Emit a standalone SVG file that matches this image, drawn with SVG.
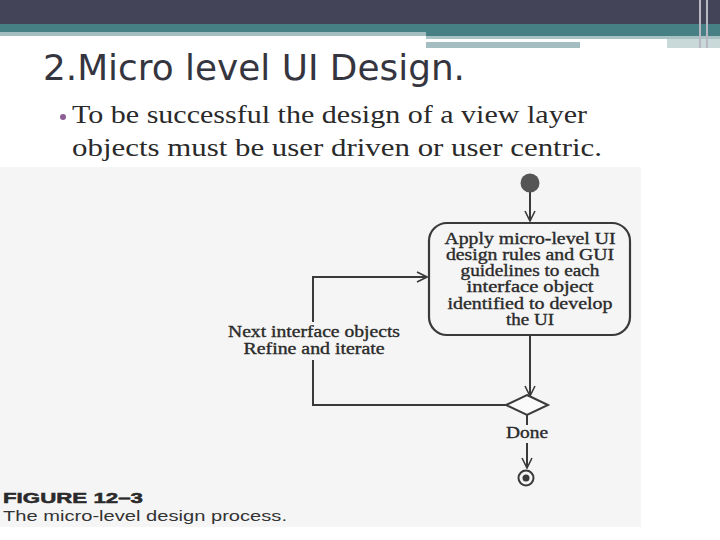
<svg xmlns="http://www.w3.org/2000/svg" width="720" height="540" viewBox="0 0 720 540">
<defs>
<style>
.ln{fill:none;stroke:#3a3a3a;stroke-width:2}
.sf{font-family:"Liberation Serif","Times New Roman",serif;fill:#2a2a2a}
.nt{font-size:16px;text-anchor:middle;stroke:#2a2a2a;stroke-width:0.35}
</style>
<marker id="arr" viewBox="0 0 12 12" refX="11" refY="6" markerWidth="12" markerHeight="12" markerUnits="userSpaceOnUse" orient="auto">
<path d="M1,1 L11,6 L1,11" fill="none" stroke="#3a3a3a" stroke-width="1.6"/>
</marker>
</defs>
<rect width="720" height="540" fill="#ffffff"/>
<g id="header">
<rect x="0" y="0" width="720" height="24" fill="#434457"/>
<rect x="0" y="24" width="720" height="9" fill="#467f84"/>
<rect x="0" y="32" width="426" height="4" fill="#a3bdc0"/>
<rect x="426" y="32" width="294" height="4" fill="#467f84"/>
<rect x="426" y="36" width="294" height="3" fill="#a9c2c4"/>
<rect x="426" y="42" width="154" height="6" fill="#a3bdc0"/>
<rect x="667" y="39" width="53" height="9" fill="#c9d8d9"/>
<rect x="699" y="0" width="2" height="48" fill="#b8b7c2"/>
<rect x="706" y="0" width="2" height="48" fill="#b8b7c2"/>
</g>
<g id="title">
<text x="43" y="80" font-family="DejaVu Sans, sans-serif" font-size="36" fill="#35353f" textLength="422" lengthAdjust="spacingAndGlyphs">2.Micro level UI Design.</text>
</g>
<g id="bullet">
<circle cx="63" cy="117" r="3" fill="#8e5d94"/>
<text class="sf" x="72" y="123" font-size="25" fill="#111" textLength="515" lengthAdjust="spacingAndGlyphs">To be successful the design of a view layer</text>
<text class="sf" x="72" y="156" font-size="25" fill="#111" textLength="530" lengthAdjust="spacingAndGlyphs">objects must be user driven or user centric.</text>
</g>
<rect id="scan" x="0" y="167" width="641" height="360" fill="#f5f5f5"/>
<g id="connectors">
<path class="ln" d="M530,192 V221" marker-end="url(#arr)"/>
<path class="ln" d="M530,335 V396" marker-end="url(#arr)"/>
<path class="ln" d="M508,405 H313 V360"/>
<path class="ln" d="M313,322 V277 H427" marker-end="url(#arr)"/>
<path class="ln" d="M527,415 V425"/>
<path class="ln" d="M527,443 V468" marker-end="url(#arr)"/>
</g>
<g id="start">
<circle cx="530" cy="183" r="9.5" fill="#555"/>
</g>
<g id="apply">
<rect x="429" y="223" width="201" height="112" rx="18" ry="18" fill="none" stroke="#3a3a3a" stroke-width="2.2"/>
<text class="sf nt" x="530" y="244" textLength="171" lengthAdjust="spacingAndGlyphs">Apply micro-level UI</text>
<text class="sf nt" x="530" y="260" textLength="168" lengthAdjust="spacingAndGlyphs">design rules and GUI</text>
<text class="sf nt" x="530" y="276" textLength="139" lengthAdjust="spacingAndGlyphs">guidelines to each</text>
<text class="sf nt" x="530" y="292" textLength="127" lengthAdjust="spacingAndGlyphs">interface object</text>
<text class="sf nt" x="530" y="309" textLength="165" lengthAdjust="spacingAndGlyphs">identified to develop</text>
<text class="sf nt" x="530" y="325" textLength="48" lengthAdjust="spacingAndGlyphs">the UI</text>
</g>
<g id="decision">
<polygon points="527,395 548,405 527,415 506,405" fill="#fafafa" stroke="#3a3a3a" stroke-width="2"/>
</g>
<g id="loop-label">
<text class="sf nt" x="314" y="337" textLength="172" lengthAdjust="spacingAndGlyphs">Next interface objects</text>
<text class="sf nt" x="314" y="354" textLength="141" lengthAdjust="spacingAndGlyphs">Refine and iterate</text>
</g>
<g id="done-label">
<text class="sf nt" x="527" y="438" textLength="42" lengthAdjust="spacingAndGlyphs">Done</text>
</g>
<g id="end">
<circle cx="526" cy="478" r="7.5" fill="none" stroke="#3a3a3a" stroke-width="2"/>
<circle cx="526" cy="478" r="3.5" fill="#3a3a3a"/>
</g>
<g id="caption">
<text x="3" y="503" font-family="Liberation Sans, Arial, sans-serif" font-size="15" font-weight="bold" fill="#2a2a2a" stroke="#2a2a2a" stroke-width="0.5" textLength="140" lengthAdjust="spacingAndGlyphs">FIGURE 12–3</text>
<text x="3" y="521" font-family="Liberation Sans, Arial, sans-serif" font-size="15" fill="#333" textLength="284" lengthAdjust="spacingAndGlyphs">The micro-level design process.</text>
</g>
</svg>
